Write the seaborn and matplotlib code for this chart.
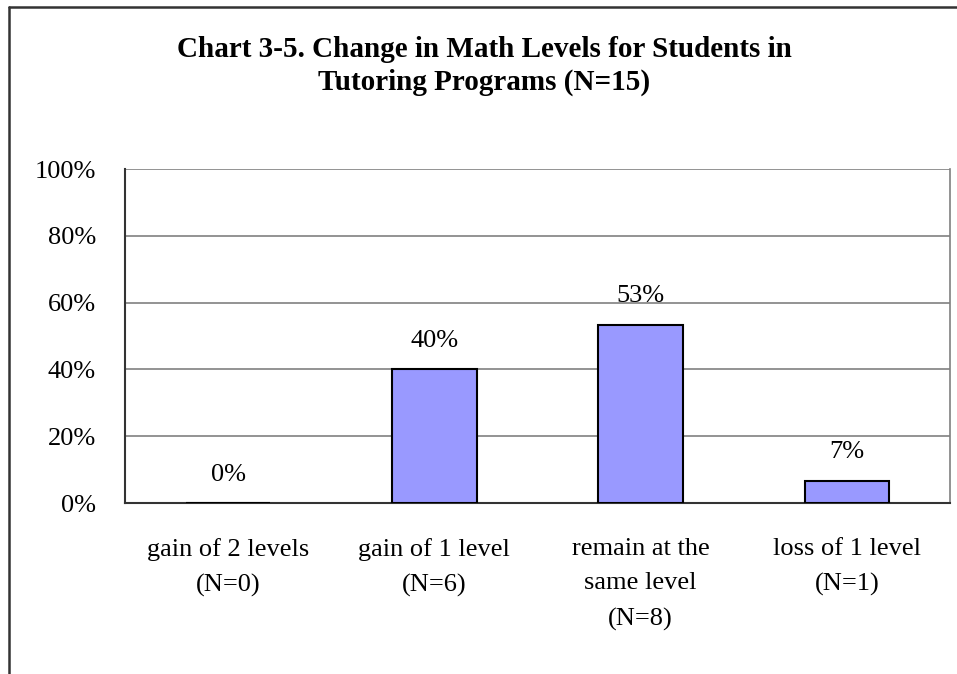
import matplotlib
matplotlib.use("Agg")
import matplotlib.pyplot as plt
from matplotlib.lines import Line2D
import pandas as pd
import seaborn as sns

# Data
categories = ["gain of 2 levels\n(N=0)", "gain of 1 level\n(N=6)",
              "remain at the\nsame level\n(N=8)", "loss of 1 level\n(N=1)"]
counts = [0, 6, 8, 1]
total_n = 15
percent = [100 * c / total_n for c in counts]
title = "Chart 3-5. Change in Math Levels for Students in\nTutoring Programs (N=15)"
y_ticks = [0, 20, 40, 60, 80, 100]

sns.set_theme(style="white")
plt.rcParams["font.family"] = ["Liberation Serif", "DejaVu Serif"]
plt.rcParams["text.color"] = "black"
plt.rcParams["xtick.labelcolor"] = "black"
plt.rcParams["ytick.labelcolor"] = "black"

df = pd.DataFrame({"category": categories, "percent": percent})

fig = plt.figure(figsize=(9.57, 6.74), dpi=100)
ax = fig.add_axes([125 / 957, (674 - 503) / 674, (950 - 125) / 957, (503 - 169) / 674])

sns.barplot(data=df, x="category", y="percent", color="#9999FF", saturation=1,
            edgecolor="black", linewidth=1.5, width=0.41, ax=ax, zorder=3)

ax.set_ylim(0, 100)
ax.set_xlim(-0.5, len(categories) - 0.5)
ax.set_yticks(y_ticks)
ax.set_yticklabels([f"{t}%" for t in y_ticks])
ax.yaxis.grid(True, color="#808080", linewidth=1.2, zorder=0)
ax.set_axisbelow(True)
ax.set_xlabel("")
ax.set_ylabel("")

# category boundary ticks on x axis
ax.set_xticks([i - 0.5 for i in range(len(categories) + 1)], minor=True)
ax.set_xticks(range(len(categories)))
ax.set_xticklabels(categories, fontsize=19, linespacing=1.75)
ax.tick_params(axis="x", which="major", length=0, pad=25)
ax.tick_params(axis="x", which="minor", length=7, width=1.2, color="#555555", direction="out")
ax.tick_params(axis="y", which="major", length=7, width=1.2, color="#555555",
               direction="out", labelsize=19, pad=14)

for side in ["left", "bottom"]:
    ax.spines[side].set_color("#333333")
    ax.spines[side].set_linewidth(1.5)
ax.spines["top"].set_visible(False)
ax.spines["right"].set_color("#808080")
ax.spines["right"].set_linewidth(1.2)

for i, p in enumerate(percent):
    ax.annotate(f"{round(p):.0f}%", (i, p), xytext=(0, 20.5), textcoords="offset points",
                ha="center", va="center", fontsize=19)

fig.text(484 / 957, (674 - 66) / 674, title, ha="center", va="center",
         fontsize=21, fontweight="bold", linespacing=1.3)

# outer chart frame (cut at the right and bottom of the picture)
fig.add_artist(Line2D([9 / 957, 9 / 957], [0, 1 - 7 / 674], color="#333333", linewidth=1.8,
                      transform=fig.transFigure))
fig.add_artist(Line2D([9 / 957, 1], [1 - 7 / 674, 1 - 7 / 674], color="#333333", linewidth=1.8,
                      transform=fig.transFigure))

fig.savefig("out.png", dpi=100)
